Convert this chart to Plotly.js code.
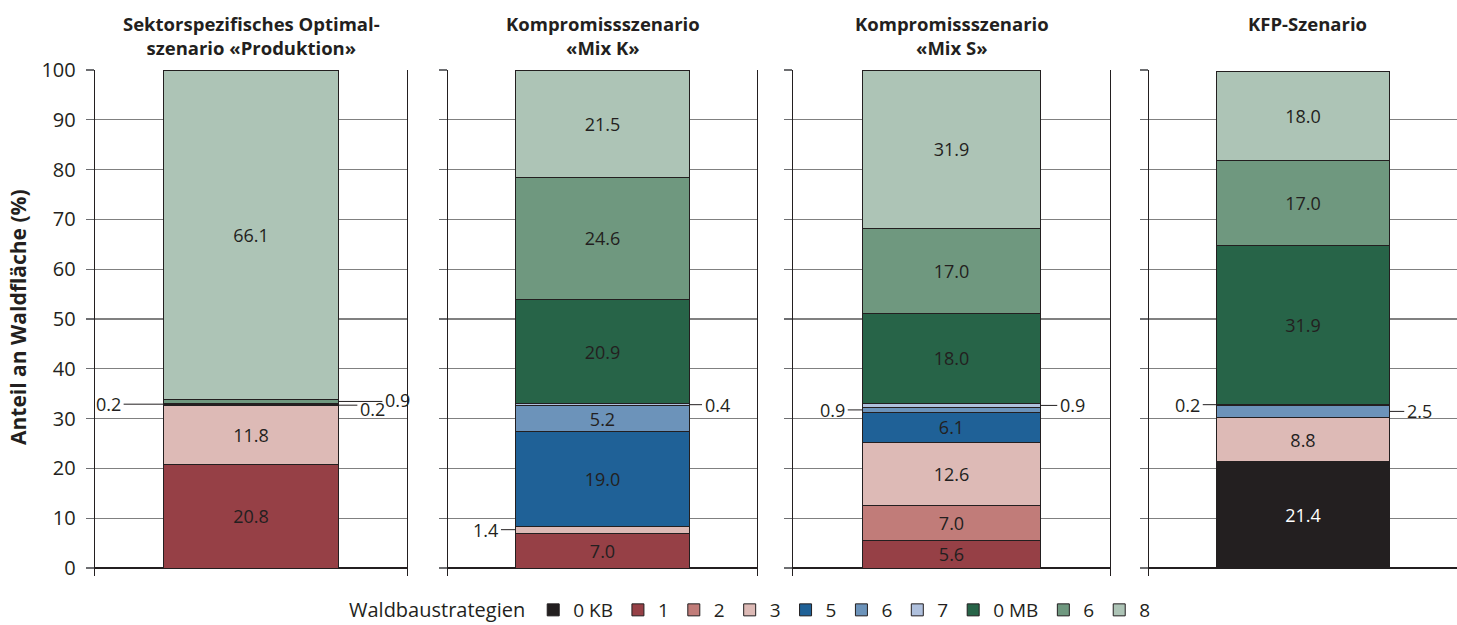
<!DOCTYPE html>
<html><head><meta charset="utf-8">
<script src="https://cdn.plot.ly/plotly-3.0.1.min.js"></script>
<style>html,body{margin:0;padding:0;background:#fff}#chart{width:1457px;height:625px}</style>
</head><body><div id="chart"></div>
<script>
// ---- data ----
const scenarioTitles = [['Sektorspezifisches Optimal-', 'szenario «Produktion»'], ['Kompromissszenario', '«Mix K»'], ['Kompromissszenario', '«Mix S»'], ['KFP-Szenario']];
const strategies = ['0 KB', '1', '2', '3', '5', '6', '7', '0 MB', '6', '8'];
const v0KB = [null, null, null, 21.4];
const v1   = [20.8, 7.0, 5.6, null];
const v2   = [null, null, 7.0, null];
const v3   = [11.8, 1.4, 12.6, 8.8];
const v5   = [0.2, 19.0, 6.1, null];
const v6b  = [null, 5.2, 0.9, 2.5];
const v7   = [null, 0.4, 0.9, 0.2];
const v0MB = [0.2, 20.9, 18.0, 31.9];
const v6g  = [0.9, 24.6, 17.0, 17.0];
const v8   = [66.1, 21.5, 31.9, 18.0];
const legendTitle = 'Waldbaustrategien';
const yTitle = 'Anteil an Waldfläche (%)';
const series = [v0KB, v1, v2, v3, v5, v6b, v7, v0MB, v6g, v8];

// ---- styles ----
const colors = ['#231f20', '#964046', '#c17c79', '#ddbab6', '#1f6197', '#6c93ba', '#afc0dd', '#276448', '#6f987f', '#adc4b6'];
const textColors = ['#ffffff', '#231f20', '#231f20', '#231f20', '#231f20', '#231f20', '#231f20', '#231f20', '#231f20', '#231f20'];
const FONT = '"Open Sans", "Noto Sans", sans-serif';
const INK = '#231f20';
const W = 1457, H = 625;
const domains = [[95, 407], [448, 757], [793, 1110], [1149, 1457]].map(d => [d[0] / W, d[1] / W]);
const bargap = 0.44;
const insideMin = 5;
// outside labels: [panel, strategy index, side, leader length px, text y shift px]
const outsideLabels = [
  [0, 4, 'right', 19, -4], [0, 7, 'left', 40, 0], [0, 8, 'right', 44, 1],
  [1, 3, 'left', 15, 0], [1, 6, 'right', 13, 0],
  [2, 5, 'left', 15, 0], [2, 6, 'right', 17, 0],
  [3, 6, 'left', 14, 0], [3, 5, 'right', 15, 0]
];
const plotTop = 70, plotBottom = 576;
const pyToPaper = py => (plotBottom - py) / (plotBottom - plotTop);

const traces = [];
series.forEach((vals, si) => {
  vals.forEach((v, p) => {
    const ax = p === 0 ? '' : String(p + 1);
    traces.push({
      type: 'bar',
      x: [scenarioTitles[p].join(' ')],
      y: [v],
      xaxis: 'x' + ax, yaxis: 'y' + ax,
      name: strategies[si],
      legendgroup: 'g' + si,
      showlegend: p === 0,
      marker: {color: colors[si], line: {color: INK, width: 1}},
      text: [v !== null && v >= insideMin ? v.toFixed(1) : ''],
      textposition: 'inside',
      insidetextanchor: 'middle',
      textangle: 0,
      textfont: {family: FONT, size: 18, color: textColors[si]},
      hoverinfo: 'skip'
    });
  });
});

const layout = {
  width: W, height: H,
  margin: {l: 0, r: 0, t: plotTop, b: H - plotBottom},
  barmode: 'stack', bargap: bargap,
  uniformtext: {mode: 'show', minsize: 18},
  paper_bgcolor: '#fff', plot_bgcolor: 'rgba(0,0,0,0)',
  font: {family: FONT, color: INK},
  showlegend: true,
  legend: {
    orientation: 'h', x: 347 / W, xanchor: 'left', yref: 'container', y: 15 / H, yanchor: 'middle',
    font: {family: FONT, size: 19, color: INK},
    title: {text: legendTitle, side: 'left', font: {family: FONT, size: 20, color: INK}},
    traceorder: 'normal', itemclick: false
  },
  annotations: [],
  shapes: []
};

for (let p = 0; p < 4; p++) {
  const ax = p === 0 ? '' : String(p + 1);
  layout['xaxis' + ax] = {
    domain: domains[p], anchor: 'y' + ax, type: 'category', range: [-0.5, 0.5],
    showticklabels: false, ticks: '', showline: false, showgrid: false, zeroline: false, fixedrange: true
  };
  layout['yaxis' + ax] = {
    domain: [0, 1], anchor: 'x' + ax, range: [-1.6, 100], tick0: 0, dtick: 10,
    ticks: 'outside', ticklen: 8, tickwidth: 1.3, tickcolor: '#6d6e71', ticklabelstandoff: 6,
    showticklabels: p === 0, tickfont: {family: FONT, size: 20, color: INK},
    showgrid: true, gridcolor: '#808080', gridwidth: 1.3,
    showline: true, linecolor: INK, linewidth: 1.3, mirror: p < 3,
    zeroline: true, zerolinecolor: INK, zerolinewidth: 1.3, fixedrange: true
  };
  layout.annotations.push({
    xref: 'paper', yref: 'paper',
    x: (domains[p][0] + domains[p][1]) / 2 + (p === 3 ? 0.003 : 0), y: pyToPaper(9),
    xanchor: 'center', yanchor: 'top', showarrow: false,
    text: '<b>' + scenarioTitles[p].join('<br>') + '</b>', font: {family: FONT, size: 18.5, color: INK}
  });
}

// outside labels for thin segments
const half = (1 - bargap) / 2;
outsideLabels.forEach(([p, si, side, len, ys]) => {
  const ax = p === 0 ? '' : String(p + 1);
  let base = 0;
  for (let k = 0; k < si; k++) base += series[k][p] || 0;
  const v = series[si][p];
  const edge = side === 'left' ? -half : half;
  const dir = side === 'left' ? -1 : 1;
  // leader line
  layout.annotations.push({
    xref: 'x' + ax, yref: 'y' + ax, x: edge, y: base + v / 2,
    ax: dir * len, ay: 0, showarrow: true, arrowhead: 0, arrowwidth: 1, arrowcolor: INK,
    standoff: 0, startstandoff: 0, text: '', xanchor: side === 'left' ? 'right' : 'left'
  });
  // value text
  layout.annotations.push({
    xref: 'x' + ax, yref: 'y' + ax, x: edge, y: base + v / 2,
    xshift: dir * (len + 1), yshift: ys,
    xanchor: side === 'left' ? 'right' : 'left', yanchor: 'middle', showarrow: false,
    text: v.toFixed(1), font: {family: FONT, size: 18, color: INK}
  });
});

layout.annotations.push({
  xref: 'paper', yref: 'paper', x: 18 / W, y: pyToPaper(317),
  xanchor: 'center', yanchor: 'middle', showarrow: false, textangle: -90,
  text: '<b>' + yTitle + '</b>', font: {family: FONT, size: 21, color: INK}
});

Plotly.newPlot('chart', traces, layout, {displayModeBar: false, staticPlot: true});
</script>
</body></html>
